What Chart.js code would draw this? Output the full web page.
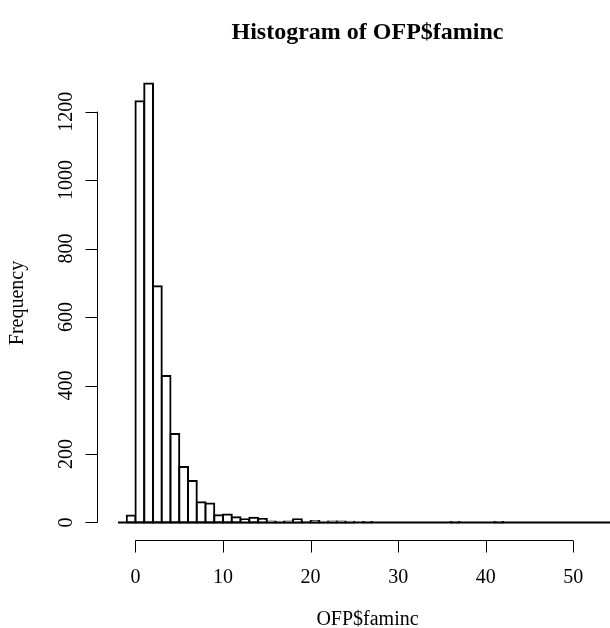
<!DOCTYPE html>
<html>
<head>
<meta charset="utf-8">
<title>Histogram of OFP$faminc</title>
<script src="https://cdn.jsdelivr.net/npm/chart.js@4/dist/chart.umd.min.js"></script>
<style>
    html, body { margin: 0; padding: 0; background: #fff; overflow: hidden; }
    #histChart { display: block; }
</style>
</head>
<body>
<canvas id="histChart" width="640" height="628"></canvas>
<script>
// bin edges of the histogram (width 1)
const breaks = [-2, -1, 0, 1, 2, 3, 4, 5, 6, 7, 8, 9, 10, 11, 12, 13, 14, 15, 16, 17, 18, 19,
    20, 21, 22, 23, 24, 25, 26, 27, 28, 29, 30, 31, 32, 33, 34, 35, 36, 37, 38, 39,
    40, 41, 42, 43, 44, 45, 46, 47, 48, 49, 50, 51, 52, 53, 54, 55];

// counts per bin
const counts = [0, 20, 1230, 1282, 690, 428, 258, 162, 121, 59, 55, 21, 23, 15, 9, 14, 10, 3, 2, 3, 9, 1,
    4, 2, 3, 3, 2, 0, 1, 0, 0, 0, 0, 0, 0, 0, 0, 0, 1, 0, 0, 0,
    0, 1, 0, 0, 0, 0, 0, 0, 0, 0, 0, 0, 0, 0, 0];

const xTicks = [0, 10, 20, 30, 40, 50];
const yTicks = [0, 200, 400, 600, 800, 1000, 1200];

const mainTitle = "Histogram of OFP$faminc";
const xTitle = "OFP$faminc";
const yTitle = "Frequency";

const FONT = "'Liberation Serif', 'Times New Roman', serif";

// R style: range of the data widened by 4% on each side
function padRange(lo, hi) {
    const d = (hi - lo) * 0.04;
    return [lo - d, hi + d];
}

const xLim = padRange(breaks[0], breaks[breaks.length - 1]);
const yLim = padRange(0, Math.max(...counts));

const bars = counts.map((c, i) => ({ x: (breaks[i] + breaks[i + 1]) / 2, y: c }));

// axes, tick labels and titles drawn the way base graphics does it
const rAxes = {
    id: "rAxes",
    afterDraw(chart) {
        const ctx = chart.ctx;
        const xs = chart.scales.x;
        const ys = chart.scales.y;
        const area = chart.chartArea;
        const tick = 12;

        ctx.save();
        ctx.strokeStyle = "#000";
        ctx.fillStyle = "#000";
        ctx.lineWidth = 1;

        // x axis
        const xy = Math.round(area.bottom) + 0.5;
        ctx.beginPath();
        ctx.moveTo(xs.getPixelForValue(xTicks[0]), xy);
        ctx.lineTo(xs.getPixelForValue(xTicks[xTicks.length - 1]), xy);
        xs.ticks.forEach(t => {
            const px = Math.round(xs.getPixelForValue(t.value)) + 0.5;
            ctx.moveTo(px, xy);
            ctx.lineTo(px, xy + tick);
        });
        ctx.stroke();

        ctx.font = "20px " + FONT;
        ctx.textAlign = "center";
        ctx.textBaseline = "middle";
        xs.ticks.forEach(t => {
            ctx.fillText(String(t.value), xs.getPixelForValue(t.value), xy + 37);
        });

        // y axis
        const yx = Math.round(area.left) - 0.5;
        ctx.beginPath();
        ctx.moveTo(yx, ys.getPixelForValue(yTicks[0]));
        ctx.lineTo(yx, ys.getPixelForValue(yTicks[yTicks.length - 1]));
        ys.ticks.forEach(t => {
            const py = Math.round(ys.getPixelForValue(t.value)) + 0.5;
            ctx.moveTo(yx, py);
            ctx.lineTo(yx - tick, py);
        });
        ctx.stroke();

        ys.ticks.forEach(t => {
            ctx.save();
            ctx.translate(yx - 31, ys.getPixelForValue(t.value));
            ctx.rotate(-Math.PI / 2);
            ctx.fillText(String(t.value), 0, 0);
            ctx.restore();
        });

        // titles
        const midX = (area.left + area.right) / 2;
        ctx.fillText(xTitle, midX, 620);

        ctx.save();
        ctx.translate(18, (area.top + area.bottom) / 2);
        ctx.rotate(-Math.PI / 2);
        ctx.fillText(yTitle, 0, 0);
        ctx.restore();

        ctx.font = "bold 24px " + FONT;
        ctx.fillText(mainTitle, midX, 33);

        ctx.restore();
    }
};

new Chart(document.getElementById("histChart"), {
    type: "bar",
    data: {
        datasets: [
            {
                // bars first, the zero line goes on top of them
                data: bars,
                backgroundColor: "#fff",
                borderColor: "#000",
                borderWidth: 2,
                borderSkipped: false,
                inflateAmount: 1,
                barPercentage: 1,
                categoryPercentage: 1,
                order: 2
            },
            {
                type: "line",
                data: [{ x: breaks[0], y: 0 }, { x: breaks[breaks.length - 1], y: 0 }],
                borderColor: "#000",
                borderWidth: 2,
                pointRadius: 0,
                order: 1
            }
        ]
    },
    options: {
        responsive: false,
        animation: false,
        devicePixelRatio: 1,
        layout: {
            autoPadding: false,
            padding: { top: 66, right: 3, left: 0, bottom: 0 }
        },
        plugins: {
            legend: { display: false },
            tooltip: { enabled: false },
            title: { display: false }
        },
        scales: {
            x: {
                type: "linear",
                offset: false,
                min: xLim[0],
                max: xLim[1],
                grid: { display: false },
                border: { display: false },
                ticks: { display: false },
                afterBuildTicks: s => { s.ticks = xTicks.map(v => ({ value: v })); },
                afterFit: s => { s.height = 88; }
            },
            y: {
                type: "linear",
                min: yLim[0],
                max: yLim[1],
                grid: { display: false },
                border: { display: false },
                ticks: { display: false },
                afterBuildTicks: s => { s.ticks = yTicks.map(v => ({ value: v })); },
                afterFit: s => { s.width = 98; }
            }
        }
    },
    plugins: [rAxes]
});
</script>
</body>
</html>
